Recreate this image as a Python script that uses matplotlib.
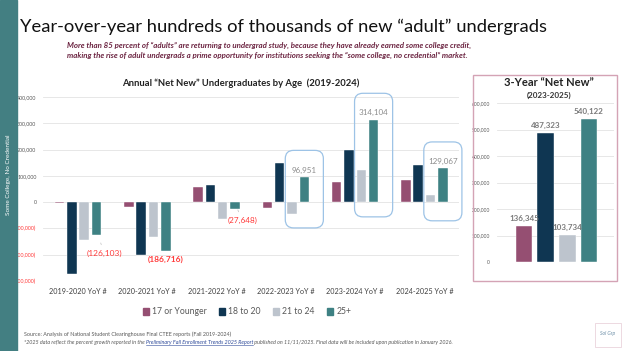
import numpy as np
import matplotlib
matplotlib.use("Agg")
import matplotlib.pyplot as plt
from matplotlib.patches import Rectangle, FancyBboxPatch
from matplotlib.lines import Line2D

plt.rcParams['font.family'] = ['Lato', 'DejaVu Sans']

# data
years = ["2019-2020 YoY #", "2020-2021 YoY #", "2021-2022 YoY #",
         "2022-2023 YoY #", "2023-2024 YoY #", "2024-2025 YoY #"]
age_labels = ["17 or Younger", "18 to 20", "21 to 24", "25+"]
age_17 = [-1500, -18000, 59000, -23500, 77500, 82345]
age_18_20 = [-274000, -201000, 66000, 149000, 197000, 141323]
age_21_24 = [-144000, -133000, -64000, -46000, 123000, 26734]
age_25 = [-126103, -186716, -27648, 96951, 314104, 129067]
three_year = [136345, 487323, 103734, 540122]
y_ticks = [-300000, -200000, -100000, 0, 100000, 200000, 300000, 400000]
right_ticks = [0, 100000, 200000, 300000, 400000, 500000, 600000]
box_lows = [-98000, -56000, -71000]   # lower edge of the blue call-out boxes

colors = ["#954f72", "#0f3652", "#bdc4cd", "#3e8183"]
teal = "#437f82"
grey_txt = "#595959"
red = "#ff3b3b"

W, H = 624, 351
fig = plt.figure(figsize=(W / 100, H / 100), dpi=100)
fig.patch.set_facecolor("white")

# left teal strip
fig.patches.append(Rectangle((0, 0), 17 / W, 1, transform=fig.transFigure,
                             color=teal, zorder=0))
fig.text(8.5 / W, 1 - 175 / H, "Some College, No Credential", rotation=90,
         color="white", fontsize=4.6, ha="center", va="center")

# titles
fig.text(20 / W, 1 - 32 / H, "Year-over-year hundreds of thousands of new \u201cadult\u201d undergrads",
         fontsize=13.2, ha="left", va="baseline", color="#111111")
sub = ("More than 85 percent of \u201cadults\u201d are returning to undergrad study, because they have already earned some college credit,\n"
       "making the rise of adult undergrads a prime opportunity for institutions seeking the \u201csome college, no credential\u201d market.")
fig.text(67 / W, 1 - 42 / H, sub, fontsize=5.7, style="italic", weight="bold",
         color="#6b2340", ha="left", va="top", linespacing=1.45)

# ---- main chart ----
ax = fig.add_axes([43.4 / W, 70 / H, 415.6 / W, 184 / H])
x = np.arange(len(years))
step, bw = 0.178, 0.137
series = [age_17, age_18_20, age_21_24, age_25]
for k, vals in enumerate(series):
    ax.bar(x + (k - 1.5) * step, vals, bw, color=colors[k], edgecolor="white",
           linewidth=0.3, zorder=3, label=age_labels[k])
ax.set_xlim(-0.5, len(years) - 0.5)
ax.set_ylim(-300000, 400000)
ax.set_yticks(y_ticks)
ylabs = []
for v in y_ticks:
    ylabs.append("({:,})".format(-v) if v < 0 else "{:,}".format(v))
ax.set_yticklabels(ylabs, fontsize=3.8)
for t, v in zip(ax.get_yticklabels(), y_ticks):
    t.set_color(red if v < 0 else grey_txt)
ax.set_xticks(x)
ax.set_xticklabels(years, fontsize=5.2, color="#404040")
ax.tick_params(length=0, pad=5)
ax.tick_params(axis="y", pad=5)
ax.grid(axis="y", color="#e3e3e3", lw=0.6, zorder=0)
for s in ax.spines.values():
    s.set_visible(False)
ax.set_title("Annual \u201cNet New\u201d Undergraduates by Age  (2019-2024)",
             fontsize=6.8, weight="bold", color="#222222", pad=8, x=0.4755)

off25 = 1.5 * step
# red negative labels
ax.annotate("({:,})".format(-age_25[0]), xy=(x[0] + off25 + 0.03, age_25[0] - 4000),
            xytext=(x[0] + off25 + 0.11, age_25[0] - 70000), fontsize=6,
            color=red, ha="center", va="center",
            arrowprops=dict(arrowstyle="-", color="#bfbfbf", lw=0.5, shrinkB=5))
ax.text(x[1] + off25, age_25[1] - 32000, "({:,})".format(-age_25[1]), fontsize=6,
        color=red, weight="bold", ha="center", va="center")
ax.annotate("({:,})".format(-age_25[2]), xy=(x[2] + off25 + 0.04, age_25[2] - 2000),
            xytext=(x[2] + off25 + 0.11, age_25[2] - 43000), fontsize=5.9,
            color=red, ha="center", va="center",
            arrowprops=dict(arrowstyle="-", color="#bfbfbf", lw=0.5, shrinkB=4))

# grey labels + rounded call-out boxes for the last three years
fig.canvas.draw()
bb = ax.get_window_extent()
aspect = (700000 / bb.height) / (len(years) / bb.width)
for j, i in enumerate([3, 4, 5]):
    v = age_25[i]
    ax.text(x[i] + off25, v + 12000, "{:,}".format(v), fontsize=5.8,
            color="#8c8c8c", ha="center", va="bottom", zorder=4)
    bx = FancyBboxPatch((x[i] + off25 - 0.275, box_lows[j]), 0.55, v + 100000 - box_lows[j],
                        boxstyle="round,pad=0,rounding_size=0.12", mutation_aspect=aspect,
                        fill=False, ec="#9dc3e6", lw=0.9, clip_on=False, zorder=5)
    ax.add_patch(bx)

# legend
handles = [Rectangle((0, 0), 1, 1, color=c) for c in colors]
fig.legend(handles, age_labels, loc="center", bbox_to_anchor=(247 / W, 1 - 312 / H),
           ncol=4, frameon=False, fontsize=6.2, labelcolor=grey_txt,
           handlelength=0.7, handleheight=0.7, handletextpad=0.4, columnspacing=1.4)

# ---- right panel ----
fig.patches.append(Rectangle((473 / W, 1 - 281 / H), 144 / W, 206 / H,
                             transform=fig.transFigure, fill=False,
                             ec="#d4a3b5", lw=1.0, zorder=1))
fig.text(549 / W, 1 - 83 / H, "3-Year \u201cNet New\u201d", fontsize=8, weight="bold",
         ha="center", va="center", color="#222222")
fig.text(549 / W, 1 - 95.5 / H, "(2023-2025)", fontsize=5.8, weight="bold",
         ha="center", va="center", color="#333333")
ax2 = fig.add_axes([497 / W, 89 / H, 117 / W, 159 / H])
xr = np.arange(len(three_year))
ax2.bar(xr, three_year, 0.78, color=colors, edgecolor="white", linewidth=0.3, zorder=3)
ax2.set_xlim(-1.244, 4.152)
ax2.set_ylim(0, 600000)
ax2.set_yticks(right_ticks)
ax2.set_yticklabels(["{:,}".format(v) for v in right_ticks], fontsize=3.6, color=grey_txt)
ax2.set_xticks([])
ax2.tick_params(length=0, pad=5)
ax2.grid(axis="y", color="#e3e3e3", lw=0.6, zorder=0)
for s in ax2.spines.values():
    s.set_visible(False)
for xi, v in zip(xr, three_year):
    ax2.text(xi, v + 14000, "{:,}".format(v), fontsize=5.8, color="#7a7a7a",
             weight="bold", ha="center", va="bottom", zorder=4)

# footer
fig.text(24 / W, 1 - 334 / H,
         "Source: Analysis of National Student Clearinghouse Final CTEE reports (Fall 2019-2024)",
         fontsize=3.9, color=grey_txt, ha="left", va="center")
r = fig.canvas.get_renderer()
parts = [("*2025 data reflect the percent growth reported in the ", grey_txt, False),
         ("Preliminary Fall Enrollment Trends 2025 Report", "#2f4b9a", True),
         (" published on 11/11/2025. Final data will be included upon publication in January 2026.", grey_txt, False)]
xpos = 24 / W
for txt, c, ul in parts:
    t = fig.text(xpos, 1 - 342 / H, txt, fontsize=3.9, color=c, style="italic",
                 ha="left", va="center")
    e = t.get_window_extent(renderer=r)
    if ul:
        fig.lines.append(Line2D([e.x0 / W, e.x1 / W], [(e.y0 - 0.3) / H] * 2,
                                transform=fig.transFigure, color=c, lw=0.4))
    xpos = e.x1 / W

# small logo bottom right
fig.patches.append(Rectangle((595 / W, 1 - 347 / H), 26 / W, 24 / H,
                             transform=fig.transFigure, fill=False,
                             ec="#ead3dc", lw=0.6))
fig.text(608 / W, 1 - 334 / H, "Sol Grp", fontsize=3.6, style="italic",
         color="#6d8fa8", ha="center", va="center")

fig.savefig("out.png", dpi=100)
